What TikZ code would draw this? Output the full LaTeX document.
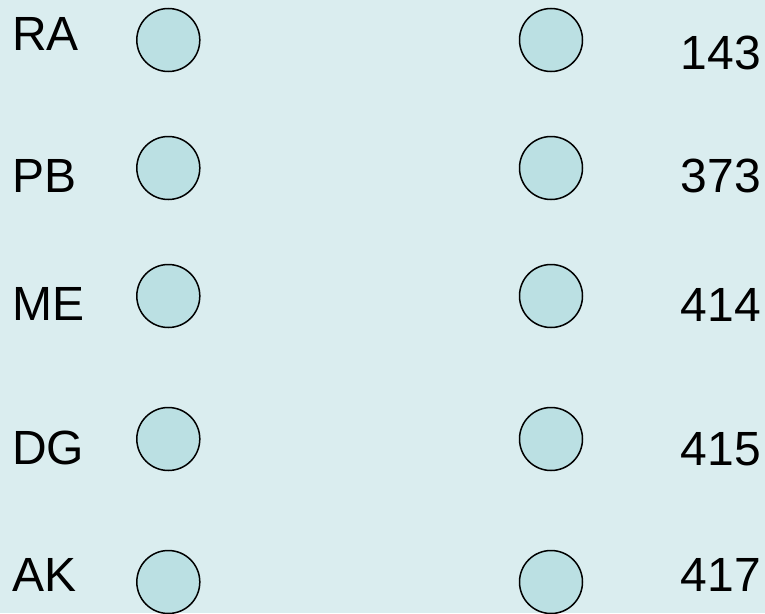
\documentclass[tikz,border=0pt]{standalone}
\usepackage{fontspec}
\setmainfont{Liberation Sans}
\definecolor{bgc}{RGB}{218,237,239}
\definecolor{dotc}{RGB}{187,224,227}
\begin{document}
\begin{tikzpicture}[x=1pt,y=-1pt,
  dot/.style={circle,draw=black,fill=dotc,line width=1.5pt,minimum size=63pt,inner sep=0pt},
  lab/.style={inner sep=0pt,font=\fontsize{48}{48}\selectfont,text=black}]
\fill[bgc] (0,0) rectangle (765,613);
\useasboundingbox (0,0) rectangle (765,613);
% left labels
\node[lab,anchor=base west] (nRA) at (12,50) {RA};
\node[lab,anchor=base west] (nPB) at (12,192.3) {PB};
\node[lab,anchor=base west] (nME) at (12,320) {ME};
\node[lab,anchor=base west] (nDG) at (12,464) {DG};
\node[lab,anchor=base west] (nAK) at (12,591) {AK};
% left circles
\node[dot] (l1) at (168.3,40) {};
\node[dot] (l2) at (168.3,168) {};
\node[dot] (l3) at (168.3,296) {};
\node[dot] (l4) at (168.3,439) {};
\node[dot] (l5) at (168.3,582) {};
% right circles
\node[dot] (r1) at (551,40) {};
\node[dot] (r2) at (551,168) {};
\node[dot] (r3) at (551,296) {};
\node[dot] (r4) at (551,439) {};
\node[dot] (r5) at (551,582) {};
% right labels
\node[lab,anchor=base east] (n143) at (761,69) {143};
\node[lab,anchor=base east] (n373) at (761,192.3) {373};
\node[lab,anchor=base east] (n414) at (761,321.5) {414};
\node[lab,anchor=base east] (n415) at (761,465) {415};
\node[lab,anchor=base east] (n417) at (761,591.7) {417};
\end{tikzpicture}
\end{document}
